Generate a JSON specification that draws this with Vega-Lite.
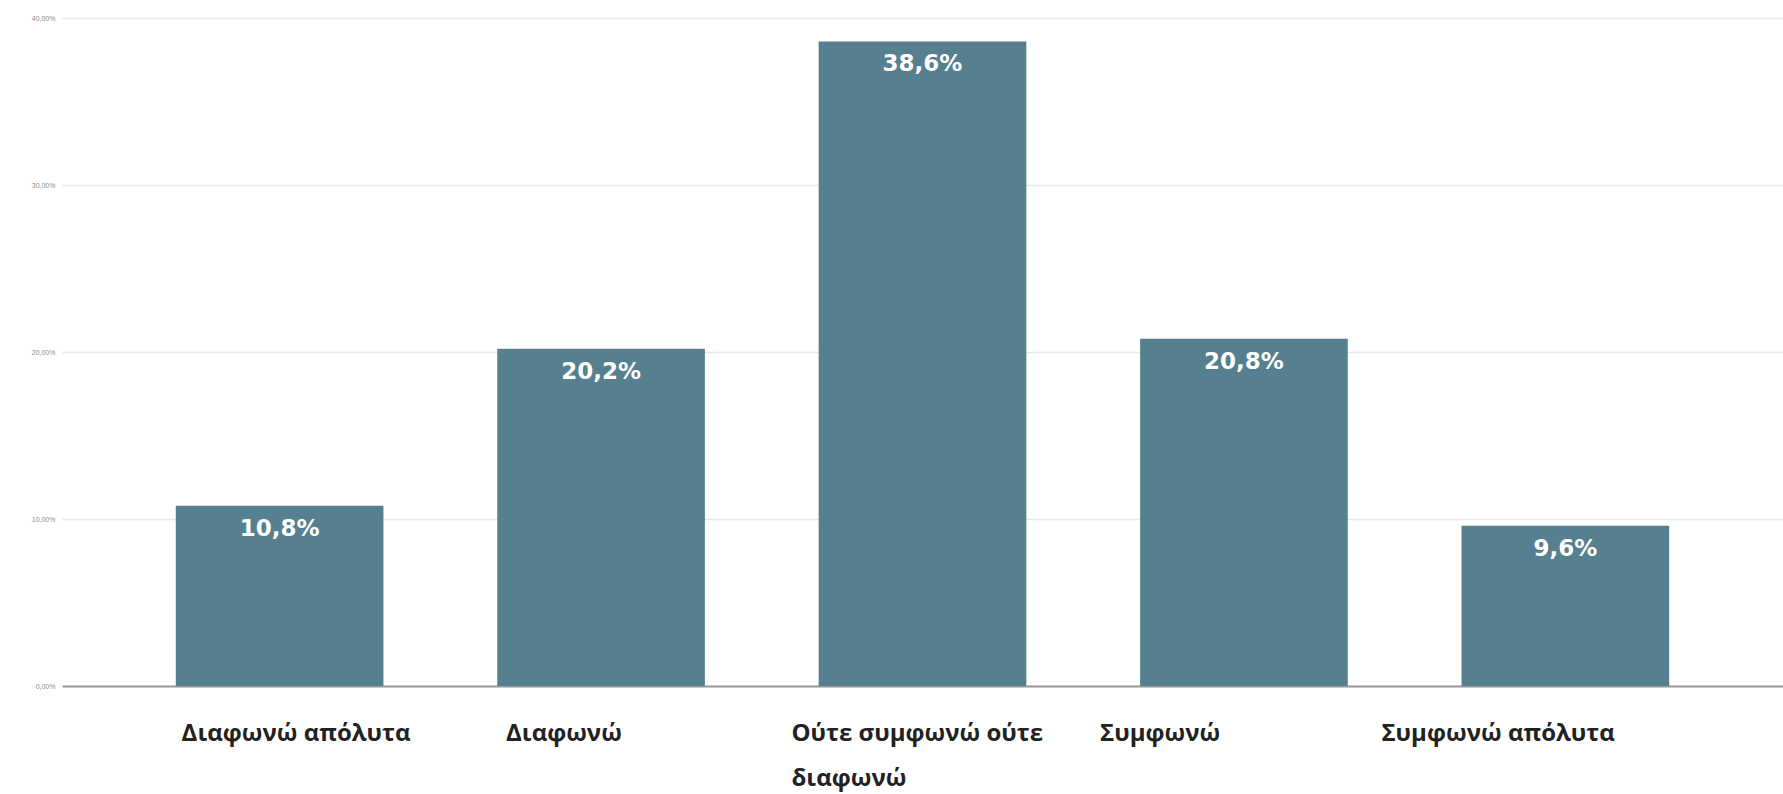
{
  "$schema": "https://vega.github.io/schema/vega-lite/v6.json",
  "width": 1721,
  "height": 668,
  "autosize": {"type": "none"},
  "padding": {"left": 62, "top": 18, "right": 0, "bottom": 108},
  "background": "white",
  "config": {
    "view": {"stroke": null},
    "locale": {"number": {"decimal": ",", "thousands": ".", "grouping": [3], "currency": ["", " €"]}}
  },
  "data": {
    "values": [
      {"answer": "Διαφωνώ απόλυτα", "pct": 0.108},
      {"answer": "Διαφωνώ", "pct": 0.202},
      {"answer": "Ούτε συμφωνώ ούτε διαφωνώ", "pct": 0.386},
      {"answer": "Συμφωνώ", "pct": 0.208},
      {"answer": "Συμφωνώ απόλυτα", "pct": 0.096}
    ]
  },
  "encoding": {
    "x": {
      "field": "answer",
      "type": "nominal",
      "sort": null,
      "scale": {"padding": 0.354},
      "axis": {
        "title": null,
        "labelAngle": 0,
        "labelAlign": "left",
        "labelBaseline": "top",
        "labelFont": "Open Sans",
        "labelFontWeight": "bold",
        "labelFontSize": 24,
        "labelLineHeight": 45,
        "labelColor": "#222222",
        "labelPadding": 35,
        "labelLimit": 400,
        "ticks": false,
        "domainColor": "#9a9a9a",
        "domainWidth": 2,
        "grid": false,
        "labelExpr": "datum.value == 'Ούτε συμφωνώ ούτε διαφωνώ' ? ['Ούτε συμφωνώ ούτε', 'διαφωνώ'] : datum.value",
        "labelOffset": {
          "condition": [
            {"test": "datum.value == 'Διαφωνώ απόλυτα'", "value": -98},
            {"test": "datum.value == 'Διαφωνώ'", "value": -95},
            {"test": "datum.value == 'Ούτε συμφωνώ ούτε διαφωνώ'", "value": -131},
            {"test": "datum.value == 'Συμφωνώ'", "value": -144}
          ],
          "value": -184
        }
      }
    },
    "y": {
      "field": "pct",
      "type": "quantitative",
      "scale": {"domain": [0, 0.4], "nice": false},
      "axis": {
        "title": null,
        "values": [0, 0.1, 0.2, 0.3, 0.4],
        "format": ".2%",
        "labelFontSize": 7,
        "labelColor": "#8a8a8a",
        "labelFont": "Arial",
        "labelPadding": 7,
        "ticks": false,
        "domain": false,
        "gridColor": "#e8e8e8",
        "gridWidth": 1.5
      }
    }
  },
  "layer": [
    {
      "mark": {"type": "bar", "color": "#56808f"}
    },
    {
      "mark": {
        "type": "text",
        "color": "white",
        "font": "DejaVu Sans",
        "fontWeight": "bold",
        "fontSize": 23,
        "baseline": "middle",
        "align": "center",
        "dy": 23
      },
      "encoding": {
        "text": {"field": "pct", "type": "quantitative", "format": ".1%"}
      }
    }
  ]
}
